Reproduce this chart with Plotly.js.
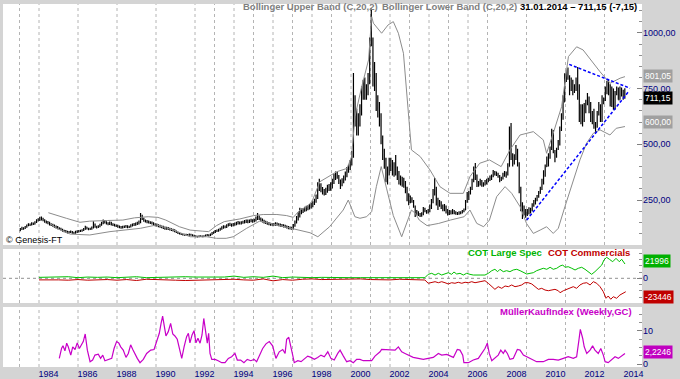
<!DOCTYPE html>
<html>
<head>
<meta charset="utf-8">
<script src="https://cdn.plot.ly/plotly-3.0.1.min.js"></script>
<style>
  html, body { margin: 0; padding: 0; background: #d4d4d4; }
  #chart { width: 680px; height: 379px; }
</style>
</head>
<body>
<div id="chart"></div>
<script>
// ---------- DATA (monthly OHLC, Jan 1983 .. Jan 2014) ----------
const firstYear = 1983;
const priceOpen = [
  115,118,125,122,128,135,140,138,145,142,150,158, // 1983
  162,165,168,160,152,150,148,140,138,135,130,128, // 1984
  125,120,118,112,110,108,105,106,108,104,102,106, // 1985
  108,110,112,114,118,128,122,118,120,125,135,130, // 1986
  128,132,138,145,155,150,145,142,148,140,138,136, // 1987
  134,130,128,126,128,130,132,128,130,135,138,140, // 1988
  142,145,150,180,165,158,155,152,150,148,145,140, // 1989
  138,136,134,130,128,125,122,124,120,118,116,114, // 1990
  110,105,100,98,96,95,94,92,93,95,92,90,          // 1991
  88,86,85,88,87,86,88,90,92,90,95,100,            // 1992
  105,110,112,115,120,125,130,128,135,138,140,135, // 1993
  140,142,145,148,145,148,150,152,155,153,155,158, // 1994
  155,158,165,175,165,160,155,150,148,145,142,140, // 1995
  140,140,142,140,138,136,135,133,130,128,125,124, // 1996
  122,135,150,165,180,195,200,205,210,212,215,220, // 1997
  225,235,245,260,300,320,295,290,285,290,300,305, // 1998
  310,330,350,365,355,330,320,335,345,360,380,395, // 1999
  410,450,700,640,560,600,640,720,750,730,740,780, // 2000
  950,960,820,780,700,660,620,520,460,420,360,380, // 2001
  420,400,380,390,370,360,340,330,330,320,300,260, // 2002
  240,255,245,220,190,195,185,180,185,210,200,195, // 2003
  200,215,240,280,300,250,230,240,220,210,215,200, // 2004
  190,195,190,198,195,190,188,192,195,198,205,240, // 2005
  255,280,300,335,380,360,320,320,330,320,320,330, // 2006
  335,340,350,355,370,370,365,360,340,345,360,365, // 2007
  365,400,520,450,440,440,470,410,300,220,210,200, // 2008
  185,190,200,205,225,235,250,265,280,300,325,365, // 2009
  400,420,440,480,540,470,450,480,500,570,620,690, // 2010
  790,820,800,760,760,740,760,790,760,660,630,620, // 2011
  650,690,700,650,610,620,580,580,640,650,610,690, // 2012
  700,740,730,760,680,750,660,730,750,700,750,720, // 2013
  715                                              // 2014
];
const priceHigh = [
  124,130,128,133,140,146,144,150,149,155,164,168,
  175,176,170,164,158,156,152,146,143,140,136,133,
  128,126,121,117,115,112,111,113,111,108,112,114,
  115,117,119,124,135,130,126,126,131,155,145,134,
  137,143,152,163,160,155,150,154,152,146,143,140,
  139,136,133,134,136,138,137,135,141,144,147,149,
  152,158,192,184,170,163,160,158,155,153,150,146,
  144,141,139,136,134,131,130,129,126,123,121,119,
  113,108,104,102,100,99,98,97,100,99,96,94,
  92,90,92,92,91,92,95,97,96,100,106,110,
  115,118,121,126,132,137,136,141,146,148,145,147,
  149,152,156,154,155,157,160,163,162,162,166,164,
  166,176,192,180,172,167,161,157,154,151,148,147,
  147,150,149,146,144,142,141,139,136,133,131,130,
  142,158,178,195,215,212,214,220,224,226,232,238,
  245,256,275,330,345,325,308,300,305,318,322,330,
  345,368,378,376,362,342,348,360,378,398,410,430,
  470,820,720,660,640,680,760,790,800,770,820,980,
  1110,980,870,820,720,690,640,540,480,440,400,440,
  440,430,420,452,400,380,360,355,350,335,310,280,
  270,262,250,225,205,200,192,195,219,215,205,210,
  230,255,300,349,310,260,250,245,230,232,225,210,
  205,204,210,205,200,196,200,200,205,212,250,286,
  290,310,345,400,416,365,335,345,340,330,340,345,
  350,360,365,385,380,378,372,362,355,372,380,378,
  415,580,596,460,455,497,480,420,310,240,225,210,
  210,218,215,235,250,260,272,290,310,345,384,410,
  445,460,490,570,564,475,485,520,580,640,720,819,
  830,845,810,800,790,770,800,847,770,680,680,686,
  700,730,715,690,650,660,600,650,690,680,720,710,
  760,785,789,770,760,750,740,760,755,760,755,745,
  752
];
const priceLow = [
  110,115,117,120,126,132,133,136,138,140,147,154,
  156,158,155,148,144,141,136,133,130,126,122,119,
  116,113,108,105,103,100,101,102,99,97,99,102,
  104,106,108,111,116,118,114,115,117,122,126,122,
  124,128,134,141,144,140,137,138,136,133,131,129,
  125,123,121,122,124,126,123,124,127,131,133,135,
  138,140,146,160,152,149,146,144,142,140,135,132,
  131,128,126,123,120,117,117,115,113,111,109,105,
  102,97,95,93,91,90,89,89,90,89,86,84,
  83,82,83,84,83,84,86,88,86,88,93,98,
  102,106,108,112,116,121,123,124,131,133,130,132,
  135,137,140,140,140,143,145,147,146,147,150,148,
  150,153,160,160,154,149,144,142,139,137,134,134,
  134,135,134,132,130,129,127,125,122,119,118,116,
  118,130,145,158,172,186,192,197,200,204,207,212,
  218,228,238,255,290,285,275,270,272,283,290,292,
  302,322,340,345,322,300,312,325,338,352,372,385,
  405,440,580,540,540,580,630,700,700,700,720,770,
  940,760,740,650,620,580,500,430,390,330,320,360,
  380,360,355,360,340,320,315,310,305,280,245,227,
  235,238,215,174,180,178,174,175,182,195,188,190,
  195,210,235,270,225,205,220,210,200,200,190,180,
  183,185,186,186,184,183,184,186,189,195,205,238,
  250,275,295,330,340,308,310,315,310,310,315,320,
  330,335,340,352,360,358,350,330,335,342,355,350,
  360,400,430,400,410,430,400,280,200,165,180,170,
  178,185,190,200,220,230,245,260,278,295,320,355,
  398,400,435,475,460,420,440,475,495,560,610,690,
  780,790,720,740,720,730,740,700,600,590,580,600,
  640,675,640,600,590,570,551,575,630,600,600,680,
  695,725,720,670,668,655,655,720,700,700,715,700,
  705
];
const priceClose = [
  118,125,122,128,135,140,138,145,142,150,158,162,
  165,168,160,152,150,148,140,138,135,130,128,125,
  120,118,112,110,108,105,106,108,104,102,106,108,
  110,112,114,118,128,122,118,120,125,135,130,128,
  132,138,145,155,150,145,142,148,140,138,136,134,
  130,128,126,128,130,132,128,130,135,138,140,142,
  145,150,180,165,158,155,152,150,148,145,140,138,
  136,134,130,128,125,122,124,120,118,116,114,110,
  105,100,98,96,95,94,92,93,95,92,90,88,
  86,85,88,87,86,88,90,92,90,95,100,105,
  110,112,115,120,125,130,128,135,138,140,135,140,
  142,145,148,145,148,150,152,155,153,155,158,155,
  158,165,175,165,160,155,150,148,145,142,140,140,
  140,142,140,138,136,135,133,130,128,125,124,122,
  135,150,165,180,195,200,205,210,212,215,220,225,
  235,245,260,300,320,295,290,285,290,300,305,310,
  330,350,365,355,330,320,335,345,360,380,395,410,
  450,700,640,560,600,640,720,750,730,740,780,950,
  980,820,780,700,660,620,520,460,420,360,380,420,
  400,380,390,370,360,340,330,330,320,300,260,240,
  255,245,220,190,195,185,180,185,210,200,195,200,
  215,240,280,300,250,230,240,220,210,215,200,190,
  195,190,198,195,190,188,192,195,198,205,240,255,
  280,300,335,380,360,320,320,330,320,320,330,335,
  340,350,355,370,370,365,360,340,345,360,365,365,
  400,520,450,440,440,470,410,300,220,210,200,185,
  190,200,205,225,235,250,265,280,300,325,365,400,
  420,440,480,540,470,450,480,500,570,620,690,790,
  820,800,760,760,740,760,790,760,660,630,620,650,
  690,700,650,610,620,580,580,640,650,610,690,700,
  740,730,760,680,750,660,730,750,700,750,720,715,
  711.15
];

// Bollinger bands (C,20,2)
const bbUpperYears = [1984.48,1984.9,1985.4,1986.1,1986.6,1987.5,1988.3,1988.9,1989.6,1990.1,1990.5,1991.2,1991.75,1992.4,1992.7,1993.1,1993.5,1994.3,1995.0,1995.5,1996.2,1996.7,1997.04,1997.38,1997.73,1998.0,1998.4,1999.27,1999.8,2000.03,2000.2,2000.55,2000.9,2001.06,2001.15,2001.57,2001.9,2002.17,2002.43,2002.69,2002.94,2003.1,2003.55,2004.05,2004.56,2005.08,2005.76,2006.1,2006.6,2007.1,2007.7,2008.15,2008.67,2009.35,2009.86,2010.03,2010.37,2010.8,2011.15,2011.57,2011.9,2012.35,2012.77,2013.28,2013.8,2014.05];
const bbUpperVals  = [193,183,168,150,155,158,160,170,175,172,160,130,115,110,108,135,153,165,180,185,185,180,172,205,220,243,332,377,392,445,624,759,879,1073,1044,999,1036,1051,999,909,654,475,445,385,310,280,280,355,415,430,400,475,542,557,520,460,550,669,894,938,924,871,826,774,797,804];
const bbLowerYears = [1984.56,1984.9,1985.6,1986.6,1987.64,1988.5,1989.2,1990.03,1990.9,1991.75,1992.6,1993.1,1993.6,1993.96,1994.65,1995.33,1996.2,1997.04,1997.9,1998.3,1998.9,1999.6,1999.86,2000.2,2000.46,2000.8,2001.06,2001.3,2001.55,2001.83,2002.17,2002.6,2002.86,2003.1,2003.3,2003.5,2003.9,2004.5,2005.1,2005.8,2006.1,2006.45,2006.8,2007.1,2007.47,2007.9,2008.24,2008.67,2009.0,2009.35,2009.7,2010.03,2010.37,2010.63,2010.97,2011.4,2011.74,2012.08,2012.43,2012.77,2013.28,2013.6,2014.05];
const bbLowerVals  = [145,123,97,93,108,118,123,138,115,85,85,78,78,85,123,156,138,123,103,85,130,205,250,175,168,175,198,310,400,300,180,85,150,205,190,160,135,145,160,175,205,145,130,160,265,310,280,220,145,100,115,130,100,123,220,340,430,505,550,565,542,572,580];

// Triangle trend lines
const trendUpperX = [2011.19, 2014.31];
const trendUpperY = [859, 752];
const trendLowerX = [2009.01, 2014.27];
const trendLowerY = [160, 741];

// COT positions (thousand contracts)
const cotSpecYears = [1984.0,1984.5,1985.0,1985.5,1986.0,1986.5,1987.0,1987.5,1988.0,1988.5,1989.0,1989.5,1990.0,1990.5,1991.0,1991.5,1992.0,1992.5,1993.0,1993.5,1994.0,1994.5,1995.0,1995.5,1996.0,1996.5,1997.0,1997.5,1998.0,1998.5,1999.0,1999.5,2000.0,2000.5,2001.0,2001.5,2002.0,2002.5,2003.0,2003.5,
  2003.79,2003.96,2004.14,2004.31,2004.48,2004.65,2004.82,2004.99,2005.16,2005.28,2005.42,2005.59,2005.76,2005.93,2006.10,2006.27,2006.62,2006.87,2007.04,2007.22,2007.38,2007.52,2007.64,2007.81,2007.98,2008.15,2008.32,2008.50,2008.67,2008.84,2009.01,2009.18,2009.35,2009.52,2009.69,2009.86,2010.04,2010.21,2010.37,2010.55,2010.72,2010.86,2010.97,2011.14,2011.32,2011.49,2011.66,2011.83,2012.00,2012.17,2012.34,2012.51,2012.68,2012.86,2012.97,2013.11,2013.25,2013.42,2013.59,2013.76,2013.88,2014.05];
const cotSpecVals = [1.5,2.0,1.5,2.5,1.0,2.0,1.5,2.0,1.0,1.5,2.5,1.0,1.5,2.0,2.0,2.5,2.0,2.0,1.0,2.0,3.5,1.5,2.5,1.5,3.5,1.0,2.0,1.0,1.0,1.5,1.0,1.0,1.0,1.0,1.0,1.0,1.0,1.0,1.5,2.0,
  1.0,6.3,7.9,5.2,7.9,5.2,6.8,8.9,6.3,10.0,6.8,7.9,5.2,7.9,6.3,5.2,5.2,5.2,7.9,12.1,14.3,10.5,14.3,10.5,12.1,10.5,13.2,14.3,12.1,8.9,6.8,7.9,8.9,12.1,14.3,15.9,14.3,17.5,14.3,15.9,19.5,21.1,17.5,18.4,15.9,13.2,15.9,17.5,14.3,10.5,6.3,10.5,15.9,21.1,29.0,33.3,30.2,26.3,31.7,26.3,30.2,22.7];
const cotCommYears = [1984.0,1984.5,1985.0,1985.5,1986.0,1986.5,1987.0,1987.5,1988.0,1988.5,1989.0,1989.5,1990.0,1990.5,1991.0,1991.5,1992.0,1992.5,1993.0,1993.5,1994.0,1994.5,1995.0,1995.5,1996.0,1996.5,1997.0,1997.5,1998.0,1998.5,1999.0,1999.5,2000.0,2000.5,2001.0,2001.5,2002.0,2002.5,2003.0,2003.5,
  2003.79,2003.96,2004.14,2004.31,2004.48,2004.65,2004.82,2004.99,2005.16,2005.33,2005.50,2005.68,2005.85,2006.02,2006.19,2006.36,2006.62,2006.87,2007.04,2007.22,2007.38,2007.55,2007.73,2007.90,2008.07,2008.24,2008.41,2008.58,2008.75,2008.92,2009.09,2009.27,2009.44,2009.61,2009.78,2009.95,2010.12,2010.29,2010.46,2010.63,2010.72,2010.89,2011.06,2011.23,2011.40,2011.57,2011.74,2011.91,2012.09,2012.26,2012.43,2012.60,2012.77,2012.94,2013.08,2013.19,2013.32,2013.45,2013.62,2013.79,2013.96,2014.09];
const cotCommVals = [-2.5,-2.0,-2.5,-3.0,-2.0,-3.0,-2.5,-2.0,-3.0,-2.0,-3.5,-1.5,-2.0,-3.0,-3.0,-3.5,-3.0,-3.0,-2.0,-2.5,-1.5,-2.5,-3.0,-1.0,-4.0,-2.0,-3.0,-1.5,-1.0,-2.0,-1.5,-1.0,-1.0,-1.0,-2.0,-2.5,-2.5,-1.5,-2.0,-3.0,
  -2.7,-7.9,-7.0,-5.4,-7.0,-5.4,-7.0,-9.0,-7.0,-7.9,-6.3,-7.9,-6.3,-7.0,-5.4,-7.0,-5.4,-3.8,-7.9,-13.3,-17.5,-13.3,-15.9,-12.2,-13.3,-10.6,-13.3,-12.2,-10.6,-7.0,-7.0,-9.0,-13.3,-17.5,-15.9,-18.6,-19.7,-18.6,-17.5,-19.7,-22.9,-19.7,-17.5,-15.9,-13.3,-15.9,-10.6,-7.9,-7.0,-10.6,-5.4,-7.9,-13.3,-21.3,-31.7,-28.1,-33.3,-29.2,-31.7,-26.5,-23.8,-21.3];

// MüllerKaufIndex
const mullerYears = [1985.04,1985.16,1985.23,1985.33,1985.42,1985.5,1985.63,1985.73,1985.85,1985.96,1986.07,1986.19,1986.27,1986.37,1986.48,1986.62,1986.75,1986.87,1987.04,1987.16,1987.27,1987.38,1987.55,1987.73,1987.85,1987.98,1988.09,1988.19,1988.32,1988.46,1988.58,1988.7,1988.81,1988.92,1989.04,1989.18,1989.35,1989.52,1989.73,1989.9,1990.04,1990.17,1990.26,1990.34,1990.43,1990.51,1990.63,1990.75,1990.86,1990.97,1991.09,1991.23,1991.32,1991.44,1991.57,1991.66,1991.74,1991.85,1991.95,1992.05,1992.15,1992.26,1992.36,1992.45,1992.5,1992.56,1992.63,1992.7,1992.77,1992.86,1993.03,1993.19,1993.37,1993.54,1993.71,1993.88,1994.05,1994.17,1994.34,1994.51,1994.68,1994.86,1995.03,1995.16,1995.3,1995.47,1995.64,1995.81,1995.98,1996.15,1996.32,1996.5,1996.62,1996.7,1996.81,1996.91,1997.01,1997.09,1997.27,1997.44,1997.61,1997.78,1997.95,1998.12,1998.29,1998.46,1998.63,1998.81,1998.97,1999.14,1999.32,1999.44,1999.61,1999.78,1999.95,2000.12,2000.29,2000.46,2000.63,2000.81,2001.06,2001.23,2001.49,2001.57,2001.83,2002.09,2002.26,2002.43,2002.6,2002.77,2002.94,2003.19,2003.45,2003.71,2003.96,2004.22,2004.48,2004.65,2004.91,2005.08,2005.25,2005.45,2005.59,2005.73,2005.79,2006.02,2006.27,2006.53,2006.7,2006.87,2006.99,2007.09,2007.22,2007.38,2007.55,2007.68,2007.81,2007.9,2008.02,2008.15,2008.32,2008.53,2008.67,2008.84,2009.01,2009.27,2009.52,2009.86,2010.12,2010.37,2010.63,2010.89,2011.14,2011.4,2011.57,2011.69,2011.76,2011.88,2011.96,2012.09,2012.26,2012.39,2012.51,2012.68,2012.81,2012.94,2013.03,2013.19,2013.37,2013.54,2013.71,2013.88,2014.05];
const mullerVals = [1.7,4.8,5.5,4.0,6.3,5.2,2.7,5.2,4.4,6.4,4.7,5.8,6.8,9.1,4.2,0.7,1.2,2.7,3.0,1.7,2.7,1.0,1.4,1.7,4.7,6.8,6.4,5.2,4.2,2.0,3.2,5.8,4.4,3.0,1.7,0.4,1.4,3.2,4.2,4.4,6.8,9.3,12.3,14.5,11.3,8.5,9.8,12.3,9.1,8.5,7.5,4.4,1.7,5.2,8.3,9.3,6.4,8.8,10.1,6.4,7.8,6.3,8.8,13.8,11.8,9.3,6.3,9.3,3.2,1.4,1.4,1.0,0.4,0.4,1.7,2.2,3.2,1.2,1.2,0.4,1.4,1.0,1.4,0.7,2.7,4.7,6.1,6.8,5.5,1.7,3.7,4.4,3.2,7.5,8.1,5.8,2.7,0.4,1.0,0.7,1.7,2.4,2.0,1.4,2.0,2.7,2.2,3.7,1.7,1.2,3.2,4.2,2.4,0.7,1.0,0.4,1.4,1.4,1.0,1.0,1.0,2.4,3.7,4.4,4.4,4.2,4.2,5.2,3.7,3.2,2.7,2.0,1.7,1.4,1.7,2.0,3.2,2.7,2.9,2.4,2.0,4.4,4.2,2.7,0.4,0.4,1.2,1.7,3.2,4.7,6.3,3.2,1.0,1.7,2.7,4.2,3.2,4.2,3.2,1.4,1.7,4.4,4.2,2.7,2.2,1.4,0.7,0.7,1.4,1.4,1.2,1.7,2.2,1.7,2.2,7.3,10.5,7.8,5.2,3.2,4.2,5.5,4.2,3.2,4.7,2.7,0.7,0.4,1.2,2.2,1.7,2.4,3.2];

// Axis labels
const xLabelYears = [1984,1986,1988,1990,1992,1994,1996,1998,2000,2002,2004,2006,2008,2010,2012,2014];
const gridYears = [1983,1984,1986,1988,1990,1992,1993,1994,1995,1996,1997,1998,1999,2000,2001,2002,2003,2004,2005,2006,2007,2009,2011,2013];
const priceTicks = [250,500,750,1000];
const priceTickText = ['250,00','500,00','750,00','1000,00'];

// ---------- LAYOUT HELPERS ----------
const W = 680, H = 379;
const M = {l: 3, r: 38, t: 4, b: 12};
const PW = W - M.l - M.r, PH = H - M.t - M.b;
const ax = px => (px - M.l) / PW;
const ay = py => (H - M.b - py) / PH;

const xRange = [1982.154, 2014.923];
const yRange1 = [48.0, 1130.2];
const yRange2 = [-39.2, 46.5];
const yRange3 = [-0.91, 17.27];

const monthX = priceClose.map((_, i) => firstYear + (i + 0.5) / 12);

const NAVY = '#000080';
const NARROW = 'Liberation Sans Narrow, Liberation Sans, Arial, sans-serif';
const SANS = 'Liberation Sans, Arial, sans-serif';

const traces = [
  {type: 'scatter', mode: 'lines', x: bbUpperYears, y: bbUpperVals, xaxis: 'x', yaxis: 'y',
   line: {color: '#8c8c8c', width: 1}, hoverinfo: 'skip'},
  {type: 'scatter', mode: 'lines', x: bbLowerYears, y: bbLowerVals, xaxis: 'x', yaxis: 'y',
   line: {color: '#8c8c8c', width: 1}, hoverinfo: 'skip'},
  {type: 'ohlc', x: monthX, open: priceOpen, high: priceHigh, low: priceLow, close: priceClose,
   xaxis: 'x', yaxis: 'y', tickwidth: 0.35,
   increasing: {line: {color: '#000000', width: 1.2}}, decreasing: {line: {color: '#000000', width: 1.2}},
   hoverinfo: 'skip'},
  {type: 'scatter', mode: 'lines', x: trendUpperX, y: trendUpperY, xaxis: 'x', yaxis: 'y',
   line: {color: '#0000ff', width: 1.5, dash: '3px,2px'}, hoverinfo: 'skip'},
  {type: 'scatter', mode: 'lines', x: trendLowerX, y: trendLowerY, xaxis: 'x', yaxis: 'y',
   line: {color: '#0000ff', width: 1.5, dash: '3px,2px'}, hoverinfo: 'skip'},
  {type: 'scatter', mode: 'lines', x: cotSpecYears, y: cotSpecVals, xaxis: 'x', yaxis: 'y2',
   line: {color: '#00c000', width: 1}, hoverinfo: 'skip'},
  {type: 'scatter', mode: 'lines', x: cotCommYears, y: cotCommVals, xaxis: 'x', yaxis: 'y2',
   line: {color: '#c00000', width: 1}, hoverinfo: 'skip'},
  {type: 'scatter', mode: 'lines', x: mullerYears, y: mullerVals, xaxis: 'x', yaxis: 'y3',
   line: {color: '#c800c8', width: 1.2}, hoverinfo: 'skip'}
];

const shapes = [];
[['y', yRange1], ['y2', yRange2], ['y3', yRange3]].forEach(([yr, rg]) => {
  gridYears.forEach(g => shapes.push({type: 'line', xref: 'x', yref: yr, x0: g, x1: g, y0: rg[0], y1: rg[1],
    line: {color: '#b4b4b4', width: 1, dash: '3px,3px'}, layer: 'below'}));
});
shapes.push({type: 'line', xref: 'x', yref: 'y2', x0: xRange[0], x1: xRange[1], y0: 0, y1: 0,
  line: {color: '#909090', width: 1, dash: '3px,3px'}, layer: 'below'});

function label(text, px, py, color, size, bold, family) {
  return {xref: 'paper', yref: 'paper', x: ax(px), y: ay(py), xanchor: 'left', yanchor: 'middle',
    showarrow: false, text: bold ? '<b>' + text + '</b>' : text,
    font: {color: color, size: size, family: family || SANS}};
}
function box(text, py, bg) {
  return {xref: 'paper', yref: 'paper', x: ax(643), y: ay(py), xanchor: 'left', yanchor: 'middle',
    showarrow: false, text: text, bgcolor: bg, borderpad: 1,
    font: {color: '#ffffff', size: 8.5, family: NARROW}};
}

const annotations = [
  label('Bollinger Upper Band (C,20,2)', 241, 7, '#808080', 9.5, true),
  label('Bollinger Lower Band (C,20,2)', 380, 7, '#808080', 9.5, true),
  label('31.01.2014 – 711,15 (-7,15)', 518, 7, '#000000', 9.5, true),
  label('© Genesis-FT', 4, 240, '#000000', 9, false),
  label('COT Large Spec', 466, 252.5, '#00b400', 9.5, true),
  label('COT Commercials', 546, 252.5, '#c00000', 9.5, true),
  label('MüllerKaufIndex (Weekly,GC)', 498, 311, '#c800c8', 9.5, true),
  box('801,05', 76, '#a0a0a0'),
  box('711,15', 98, '#000000'),
  box('600,00', 122, '#a0a0a0'),
  box('21996', 261, '#00b000'),
  box('-23446', 297, '#c00000'),
  box('2,2246', 352, '#c000c0')
];

const yCommon = {side: 'right', anchor: 'x', showgrid: false, zeroline: false, showline: false,
  tickmode: 'array', ticks: 'inside', ticklen: 5, tickcolor: '#808080',
  tickfont: {color: NAVY, size: 9, family: NARROW}, fixedrange: true};

const layout = {
  width: W, height: H,
  margin: M,
  paper_bgcolor: '#d4d4d4',
  plot_bgcolor: '#ffffff',
  showlegend: false,
  xaxis: {range: xRange, anchor: 'y3', showgrid: false, zeroline: false, showline: false,
    tickmode: 'array', tickvals: xLabelYears.map(y => y + 0.49), ticktext: xLabelYears.map(String),
    ticks: '', tickfont: {color: NAVY, size: 9, family: NARROW}, automargin: false,
    rangeslider: {visible: false}, fixedrange: true},
  yaxis: Object.assign({}, yCommon, {domain: [ay(245), 1], range: yRange1,
    tickvals: priceTicks, ticktext: priceTickText,
    minor: {dtick: 50, ticks: 'inside', ticklen: 3, tickcolor: '#909090'}}),
  yaxis2: Object.assign({}, yCommon, {domain: [ay(303), ay(249)], range: yRange2,
    tickvals: [0], ticktext: ['0'],
    minor: {dtick: 10, ticks: 'inside', ticklen: 3, tickcolor: '#909090'}}),
  yaxis3: Object.assign({}, yCommon, {domain: [0, ay(307)], range: yRange3,
    tickvals: [0, 10], ticktext: ['0', '10'],
    minor: {dtick: 2.5, ticks: 'inside', ticklen: 3, tickcolor: '#909090'}}),
  shapes: shapes,
  annotations: annotations
};

Plotly.newPlot('chart', traces, layout, {staticPlot: true, displayModeBar: false});
</script>
</body>
</html>
